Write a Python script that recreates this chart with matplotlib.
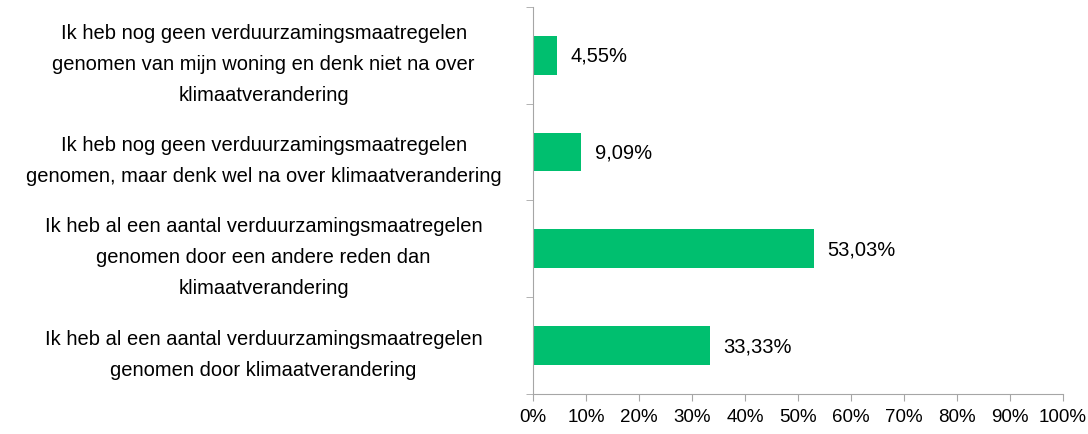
import numpy as np
import matplotlib.pyplot as plt

# categories, top to bottom as in the chart
labels = [
    "Ik heb nog geen verduurzamingsmaatregelen\ngenomen van mijn woning en denk niet na over\nklimaatverandering",
    "Ik heb nog geen verduurzamingsmaatregelen\ngenomen, maar denk wel na over klimaatverandering",
    "Ik heb al een aantal verduurzamingsmaatregelen\ngenomen door een andere reden dan\nklimaatverandering",
    "Ik heb al een aantal verduurzamingsmaatregelen\ngenomen door klimaatverandering",
]
values = [4.55, 9.09, 53.03, 33.33]
value_labels = ["4,55%", "9,09%", "53,03%", "33,33%"]
xticks = np.arange(0, 101, 10)

plt.rcParams['font.family'] = ['Liberation Sans', 'DejaVu Sans']
plt.rcParams['font.size'] = 14

fig = plt.figure(figsize=(10.88, 4.35), dpi=100)
ax = fig.add_axes([0.49, 0.092, 0.487, 0.89])

n = len(labels)
y = np.arange(n)[::-1]
ax.barh(y, values, height=0.4, color='#00BF6F')

for yi, v, t in zip(y, values, value_labels):
    ax.text(v + 2.5, yi, t, va='center', ha='left', fontsize=14.5)

ax.set_xlim(0, 100)
ax.set_ylim(-0.5, n - 0.5)
ax.set_xticks(xticks)
ax.set_xticklabels([f"{t}%" for t in xticks], fontsize=13.5)

# category labels centred, ticks on boundaries
ax.set_yticks(y)
ax.set_yticklabels(labels, ha='center', linespacing=1.8, fontsize=14.5)
ax.tick_params(axis='y', which='major', length=0, pad=194)
ax.set_yticks(np.arange(-0.5, n, 1), minor=True)
ax.tick_params(axis='y', which='minor', length=5, color='#A6A6A6')
ax.tick_params(axis='x', length=5, color='#A6A6A6', pad=5)

for s in ['top', 'right']:
    ax.spines[s].set_visible(False)
for s in ['left', 'bottom']:
    ax.spines[s].set_color('#A6A6A6')

fig.savefig('out.png', dpi=100)
